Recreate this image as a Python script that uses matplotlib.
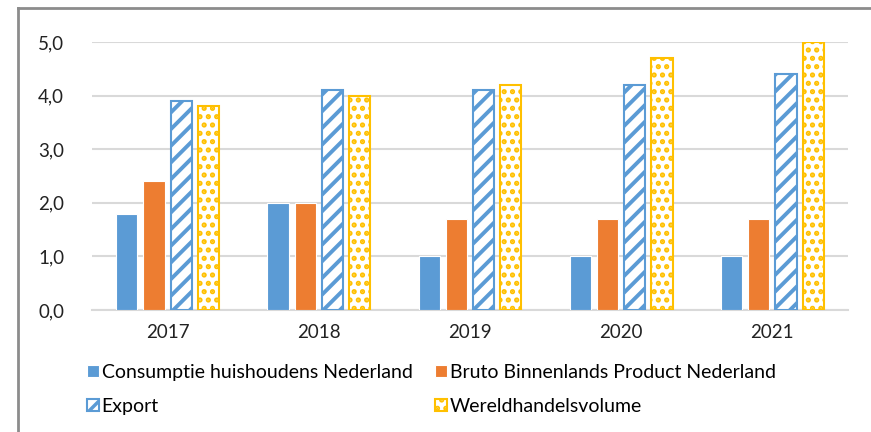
import matplotlib.pyplot as plt
import matplotlib.lines as mlines
import numpy as np

plt.rcParams['font.family'] = ['Lato', 'DejaVu Sans']

jaren = ["2017", "2018", "2019", "2020", "2021"]
consumptie = [1.8, 2.0, 1.0, 1.0, 1.0]
bbp = [2.4, 2.0, 1.7, 1.7, 1.7]
export = [3.9, 4.1, 4.1, 4.2, 4.4]
wereldhandel = [3.8, 4.0, 4.2, 4.7, 5.0]

fig = plt.figure(figsize=(8.71, 4.32), dpi=100)
ax = fig.add_axes([0.1056, 0.2824, 0.868, 0.6204])

x = np.arange(len(jaren))
w = 0.14
b1 = ax.bar(x - 0.27, consumptie, w, color="#5b9bd5", edgecolor="white", linewidth=0.8,
            label="Consumptie huishoudens Nederland", zorder=3)
b2 = ax.bar(x - 0.09, bbp, w, color="#ed7d31", edgecolor="white", linewidth=0.8,
            label="Bruto Binnenlands Product Nederland", zorder=3)
plt.rcParams['hatch.linewidth'] = 2.8
b3 = ax.bar(x + 0.09, export, w, color="white", edgecolor="#5b9bd5", hatch="//", linewidth=1.5,
            label="Export", zorder=3)
plt.rcParams['hatch.linewidth'] = 2.5
b4 = ax.bar(x + 0.27, wereldhandel, w, color="white", edgecolor="#ffc000", hatch="..", linewidth=1.5,
            label="Wereldhandelsvolume", zorder=3)

ax.set_xlim(-0.5, 4.5)
ax.set_ylim(0, 5.0)
ax.set_yticks(np.arange(0, 5.01, 1.0))
ax.set_yticklabels([f"{v:.1f}".replace(".", ",") for v in np.arange(0, 5.01, 1.0)])
ax.set_xticks(x)
ax.set_xticklabels(jaren)
ax.tick_params(length=0, labelsize=13.5, colors="#222222")
ax.tick_params(axis="y", pad=20)
ax.tick_params(axis="x", pad=10)
ax.yaxis.grid(True, color="#d9d9d9", linewidth=1.5, zorder=0)
for s in ["top", "right", "left"]:
    ax.spines[s].set_visible(False)
ax.spines["bottom"].set_color("#d9d9d9")
ax.spines["bottom"].set_linewidth(1.5)

# volgorde rij voor rij zoals in Excel
fig.legend([b1, b3, b2, b4],
           ["Consumptie huishoudens Nederland", "Export",
            "Bruto Binnenlands Product Nederland", "Wereldhandelsvolume"],
           loc="upper left", bbox_to_anchor=(0.100, 0.157), ncol=2, frameon=False,
           fontsize=14, handlelength=0.6, handleheight=0.6, handletextpad=0.15,
           columnspacing=1.15, labelspacing=0.85, borderaxespad=0, borderpad=0)

# grijze rand links en boven
fig.add_artist(mlines.Line2D([18 / 871, 18 / 871], [0, 1 - 8 / 432], color="#8c8c8c", linewidth=2))
fig.add_artist(mlines.Line2D([18 / 871, 1], [1 - 8 / 432, 1 - 8 / 432], color="#8c8c8c", linewidth=2))

fig.savefig("out.png", dpi=100)
